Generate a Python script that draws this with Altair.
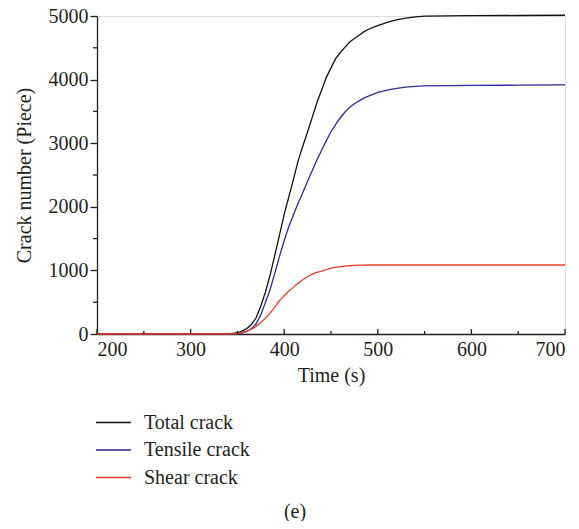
import altair as alt
import pandas as pd

times = [200, 250, 300, 330, 340, 345, 350, 355, 360, 365, 370, 375, 380, 385, 390,
         395, 400, 405, 410, 415, 420, 425, 430, 435, 440, 445, 450, 455, 460, 465,
         470, 475, 480, 485, 490, 500, 510, 520, 530, 540, 550, 575, 600, 650, 700]
total = [0, 0, 0, 0, 3, 8, 20, 45, 85, 150, 255, 440, 660, 930, 1240,
         1560, 1880, 2160, 2440, 2730, 2960, 3180, 3410, 3640, 3838, 4035, 4184, 4330, 4426, 4510,
         4590, 4645, 4697, 4750, 4792, 4850, 4900, 4940, 4965, 4985, 4997, 5003, 5005, 5008, 5012]
tensile = [0, 0, 0, 0, 0, 3, 8, 15, 40, 85, 160, 300, 500, 700, 960,
           1220, 1470, 1690, 1880, 2060, 2230, 2400, 2570, 2740, 2890, 3040, 3180, 3295, 3400, 3490,
           3565, 3620, 3665, 3708, 3740, 3800, 3835, 3863, 3882, 3893, 3900, 3905, 3908, 3912, 3918]
shear = [0, 0, 0, 0, 0, 2, 8, 20, 40, 75, 120, 180, 250, 328, 425,
         525, 601, 675, 737, 800, 853, 900, 940, 968, 990, 1013, 1035, 1048, 1060, 1067,
         1073, 1078, 1082, 1084, 1085, 1085, 1085, 1085, 1085, 1085, 1085, 1085, 1085, 1085, 1085]

series_names = ["Total crack", "Tensile crack", "Shear crack"]
series_colors = ["#111111", "#2e2a98", "#ea3b26"]

x_major = [200, 300, 400, 500, 600, 700]
x_minor = [250, 350, 450, 550, 650]
y_major = [0, 1000, 2000, 3000, 4000, 5000]
y_minor = [500, 1500, 2500, 3500, 4500]

rows = []
for name, vals in zip(series_names, [total, tensile, shear]):
    for t, v in zip(times, vals):
        rows.append({"t": t, "v": v, "series": name})
df = pd.DataFrame(rows)

W, H = 468, 318
FONT = "Liberation Serif"
INK = "#231f20"

xscale = alt.Scale(domain=[200, 700], nice=False, zero=False)
yscale = alt.Scale(domain=[0, 5000], nice=False)

lines = alt.Chart(df).mark_line(strokeWidth=1.3, clip=False).encode(
    x=alt.X("t:Q", scale=xscale, title="Time (s)",
            axis=alt.Axis(values=x_major, ticks=False, labelPadding=5, titlePadding=6,
                          grid=False, domainColor=INK, domainWidth=1.3, format="d",
                          labelFontSize=20, titleFontSize=20, labelFont=FONT, titleFont=FONT,
                          titleFontWeight="normal", labelColor=INK, titleColor=INK)),
    y=alt.Y("v:Q", scale=yscale, title="Crack number (Piece)",
            axis=alt.Axis(values=y_major, tickSize=7, tickColor=INK, tickWidth=1.3,
                          labelPadding=2, titlePadding=14, grid=False, format="d",
                          domainColor=INK, domainWidth=1.3,
                          labelFontSize=20, titleFontSize=20, labelFont=FONT, titleFont=FONT,
                          titleFontWeight="normal", labelColor=INK, titleColor=INK)),
    color=alt.Color("series:N", scale=alt.Scale(domain=series_names, range=series_colors),
                    sort=series_names,
                    legend=alt.Legend(title=None, orient="none", legendX=6.5, legendY=396.5,
                                      symbolType="M-3.5,0H3.5", symbolSize=100,
                                      symbolStrokeWidth=1.5, labelFontSize=20, labelFont=FONT,
                                      labelColor=INK, labelOffset=20.5, rowPadding=7.5,
                                      padding=0)),
)

xmaj_df = pd.DataFrame({"t": x_major})
xmin_df = pd.DataFrame({"t": x_minor})
ymin_df = pd.DataFrame({"v": y_minor})

xmaj_ticks = alt.Chart(xmaj_df).mark_rule(color=INK, strokeWidth=1.3).encode(
    x=alt.X("t:Q", scale=xscale), y=alt.value(H), y2=alt.value(H - 5))
xmin_ticks = alt.Chart(xmin_df).mark_rule(color=INK, strokeWidth=1.3).encode(
    x=alt.X("t:Q", scale=xscale), y=alt.value(H), y2=alt.value(H - 3))
ymin_ticks = alt.Chart(ymin_df).mark_rule(color=INK, strokeWidth=1.3).encode(
    y=alt.Y("v:Q", scale=yscale), x=alt.value(0), x2=alt.value(-4))

chart = alt.layer(lines, xmaj_ticks, xmin_ticks, ymin_ticks).properties(
    width=W, height=H,
    title=alt.TitleParams("(e)", orient="bottom", anchor="middle", fontSize=20, font=FONT,
                          fontWeight="normal", color=INK, dx=-36, offset=14),
    autosize=alt.AutoSizeParams(type="none"),
    padding={"left": 89, "top": 8, "right": 6, "bottom": 187},
).configure_view(stroke=None).configure(background="white")

chart.save("out.html", embed_options={"renderer": "svg", "actions": False})
